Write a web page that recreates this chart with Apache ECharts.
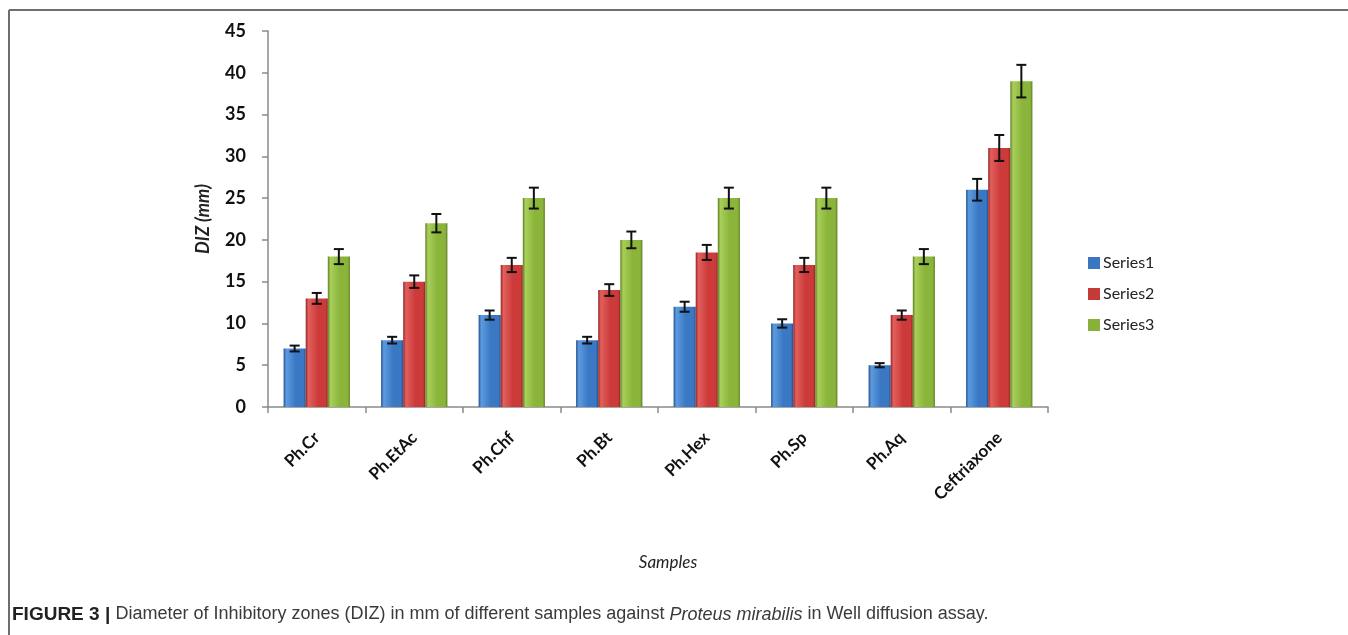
<!DOCTYPE html>
<html>
<head>
<meta charset="utf-8">
<script src="https://cdn.jsdelivr.net/npm/echarts@6/dist/echarts.min.js"></script>
<style>
  html, body { margin: 0; padding: 0; background: #fff; }
  #chart { width: 1348px; height: 635px; }
</style>
</head>
<body>
<div id="chart"></div>
<script>
// Samples tested and inhibitory zone diameters (mm)
const categories = ['Ph.Cr', 'Ph.EtAc', 'Ph.Chf', 'Ph.Bt', 'Ph.Hex', 'Ph.Sp', 'Ph.Aq', 'Ceftriaxone'];
const seriesNames = ['Series1', 'Series2', 'Series3'];
const series1 = [7, 8, 11, 8, 12, 10, 5, 26];
const series2 = [13, 15, 17, 14, 18.5, 17, 11, 31];
const series3 = [18, 22, 25, 20, 25, 25, 18, 39];
// Error bar half-lengths
const err1 = [0.35, 0.4, 0.55, 0.4, 0.6, 0.5, 0.25, 1.3];
const err2 = [0.65, 0.75, 0.85, 0.7, 0.9, 0.85, 0.55, 1.55];
const err3 = [0.9, 1.1, 1.25, 1.0, 1.25, 1.25, 0.9, 1.95];
const yTicks = [0, 5, 10, 15, 20, 25, 30, 35, 40, 45];

const values = [series1, series2, series3];
const errors = [err1, err2, err3];

const palettes = [
  { dark: '#22508f', light: '#5d9be0', mid: '#3b78c4', icon: '#3a76c2' },
  { dark: '#8f2424', light: '#e2605d', mid: '#cc3b39', icon: '#c43a38' },
  { dark: '#5e7f22', light: '#a9cf5a', mid: '#8ab43a', icon: '#88b13a' }
];

function barFill(p) {
  return new echarts.graphic.LinearGradient(0, 0, 1, 0, [
    { offset: 0, color: p.dark },
    { offset: 0.12, color: p.light },
    { offset: 0.55, color: p.mid },
    { offset: 0.9, color: p.mid },
    { offset: 1, color: p.dark }
  ]);
}

const CAT_GAP = 0.32;

const barSeries = seriesNames.map((name, i) => ({
  name: name,
  type: 'bar',
  data: values[i],
  barGap: '0%',
  barCategoryGap: (CAT_GAP * 100) + '%',
  itemStyle: { color: barFill(palettes[i]) },
  emphasis: { disabled: true },
  z: 2
}));

const errorSeries = seriesNames.map((name, i) => ({
  type: 'custom',
  name: name + ' error',
  data: values[i].map((v, k) => [k, v, errors[i][k]]),
  z: 5,
  silent: true,
  renderItem: function (params, api) {
    const k = api.value(0);
    const v = api.value(1);
    const e = api.value(2);
    const band = api.size([1, 0])[0];
    const barW = band * (1 - CAT_GAP) / 3;
    const base = api.coord([k, v]);
    const x = base[0] + (i - 1) * barW;
    const yHi = api.coord([k, v + e])[1];
    const yLo = api.coord([k, v - e])[1];
    const cap = 5;
    const st = { stroke: '#111', lineWidth: 2 };
    return {
      type: 'group',
      children: [
        { type: 'line', shape: { x1: x, y1: yHi, x2: x, y2: yLo }, style: st },
        { type: 'line', shape: { x1: x - cap, y1: yHi, x2: x + cap, y2: yHi }, style: st },
        { type: 'line', shape: { x1: x - cap, y1: yLo, x2: x + cap, y2: yLo }, style: st }
      ]
    };
  }
}));

const captionFont = '"Liberation Sans", Arial, sans-serif';

const chart = echarts.init(document.getElementById('chart'), null, { renderer: 'canvas' });

chart.setOption({
  animation: false,
  backgroundColor: '#ffffff',
  title: {
    left: 12,
    top: 605,
    padding: 0,
    text: '{b|FIGURE 3 | }{r|Diameter of Inhibitory zones (DIZ) in mm of different samples against }{i|Proteus mirabilis}{r| in Well diffusion assay.}',
    textStyle: {
      fontWeight: 'normal',
      rich: {
        b: { fontFamily: captionFont, fontWeight: 'bold', fontSize: 19, color: '#222' },
        r: { fontFamily: captionFont, fontWeight: 'normal', fontSize: 18, color: '#3a3a3a' },
        i: { fontFamily: captionFont, fontWeight: 'normal', fontStyle: 'italic', fontSize: 18, color: '#3a3a3a' }
      }
    }
  },
  legend: {
    orient: 'vertical',
    left: 1083,
    top: 250,
    itemWidth: 12,
    itemHeight: 12,
    itemGap: 15,
    icon: 'rect',
    data: seriesNames.map((n, i) => ({ name: n, itemStyle: { color: palettes[i].icon } })),
    textStyle: { fontFamily: 'Lato, "Open Sans", sans-serif', fontSize: 16, color: '#222', padding: [0, 0, 0, -2] },
    selectedMode: false
  },
  grid: { left: 268, right: 300, top: 31, bottom: 228, containLabel: false },
  xAxis: {
    type: 'category',
    data: categories,
    name: 'Samples',
    nameLocation: 'middle',
    nameGap: 147,
    nameTextStyle: { fontFamily: 'Lato, sans-serif', fontStyle: 'italic', fontSize: 17, color: '#222', padding: [0, 0, 0, 20] },
    axisLine: { lineStyle: { color: '#8a8a8a', width: 1.5 } },
    axisTick: { show: true, alignWithLabel: false, length: 6, lineStyle: { color: '#8a8a8a', width: 1.5 } },
    axisLabel: {
      rotate: 45,
      margin: 28,
      interval: 0,
      fontFamily: 'Lato, sans-serif',
      fontWeight: 'bold',
      fontSize: 17,
      color: '#111'
    }
  },
  yAxis: {
    type: 'value',
    min: 0,
    max: 45,
    interval: 5,
    name: 'DIZ (mm)',
    nameLocation: 'middle',
    nameGap: 56,
    nameRotate: 90,
    nameTextStyle: { fontFamily: 'Lato, sans-serif', fontStyle: 'italic', fontWeight: 'bold', fontSize: 18, color: '#222' },
    axisLine: { show: true, lineStyle: { color: '#8a8a8a', width: 1.5 } },
    axisTick: { show: true, length: 6, lineStyle: { color: '#8a8a8a', width: 1.5 } },
    splitLine: { show: false },
    axisLabel: {
      margin: 22,
      fontFamily: 'Lato, sans-serif',
      fontWeight: 'bold',
      fontSize: 18,
      color: '#111',
      formatter: v => (yTicks.indexOf(v) >= 0 ? String(v) : '')
    }
  },
  graphic: [
    { type: 'line', shape: { x1: 9, y1: 10, x2: 1348, y2: 10 }, style: { stroke: '#6e6e6e', lineWidth: 2 } },
    { type: 'line', shape: { x1: 9, y1: 10, x2: 9, y2: 635 }, style: { stroke: '#6e6e6e', lineWidth: 2 } }
  ],
  series: barSeries.concat(errorSeries)
});
</script>
</body>
</html>
